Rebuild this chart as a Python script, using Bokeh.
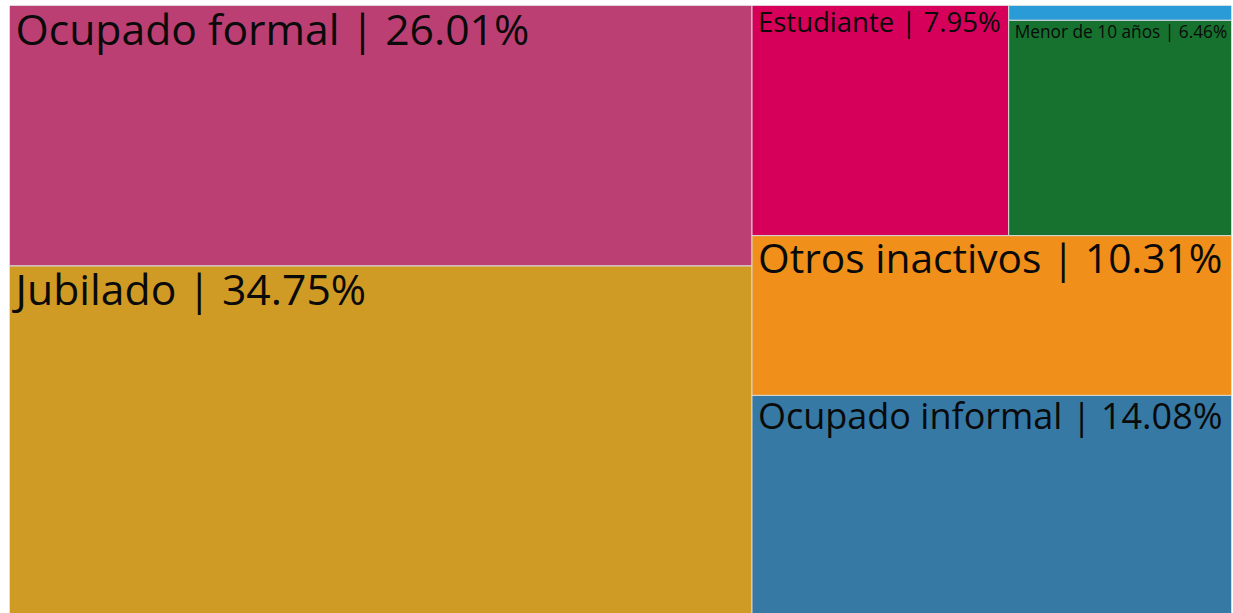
from bokeh.plotting import figure
from bokeh.models import Range1d, ColumnDataSource
from bokeh.core.properties import value
from bokeh.embed import file_html
from bokeh.resources import INLINE

# ---- data ----
labels = ["Jubilado", "Ocupado formal", "Ocupado informal", "Otros inactivos",
          "Estudiante", "Menor de 10 años", "Desocupado"]
percents = [34.75, 26.01, 14.08, 10.31, 7.95, 6.46, 0.44]
colors = ["#D09B25", "#BC3F74", "#3679A5", "#F08F19", "#D6005A", "#16722E", "#2A9BD6"]

# nesting of the tiles: ("x", ...) splits left->right, ("y", ...) splits bottom->top
structure = ("x", [("y", [0, 1]),
                   ("y", [2, 3, ("x", [4, ("y", [5, 6])])])])

# style per tile (font size in px; None = no label)
font_sizes = [42.7, 42.7, 36, 40.7, 27.5, 17.3, None]


def total(node):
    if isinstance(node, int):
        return percents[node]
    return sum(total(c) for c in node[1])


rects = {}


def layout(node, x0, y0, x1, y1):
    if isinstance(node, int):
        rects[node] = (x0, y0, x1, y1)
        return
    axis, children = node
    tot = total(node)
    pos = x0 if axis == "x" else y0
    for c in children:
        frac = total(c) / tot
        if axis == "x":
            nxt = pos + (x1 - x0) * frac
            layout(c, pos, y0, nxt, y1)
        else:
            nxt = pos + (y1 - y0) * frac
            layout(c, x0, pos, x1, nxt)
        pos = nxt


layout(structure, 0.0, 0.0, 1.0, 1.0)

idx = list(range(len(labels)))
src = ColumnDataSource(dict(
    left=[rects[i][0] for i in idx], bottom=[rects[i][1] for i in idx],
    right=[rects[i][2] for i in idx], top=[rects[i][3] for i in idx],
    color=[colors[i] for i in idx],
))

p = figure(width=1233, height=613, output_backend="svg", toolbar_location=None,
           x_range=Range1d(0, 1), y_range=Range1d(0, 1),
           min_border_left=9, min_border_right=2, min_border_top=5, min_border_bottom=0)
p.axis.visible = False
p.grid.visible = False
p.outline_line_color = None
p.background_fill_color = "white"
p.border_fill_color = "white"

p.quad(left="left", right="right", bottom="bottom", top="top", source=src,
       fill_color="color", line_color="#d8d8d8", line_width=1)

for i in idx:
    fs = font_sizes[i]
    if fs is None:
        continue
    x0, y0, x1, y1 = rects[i]
    p.text(x=[x0], y=[y1], text=[f"{labels[i]} | {percents[i]:.2f}%"],
           text_font=value("Open Sans"), text_font_size=f"{fs}px",
           text_color="#0a0a0a", text_baseline="middle", text_align="left",
           x_offset=6, y_offset=0.45 * fs + 3.5)

open("out.html", "w").write(file_html(p, INLINE))
